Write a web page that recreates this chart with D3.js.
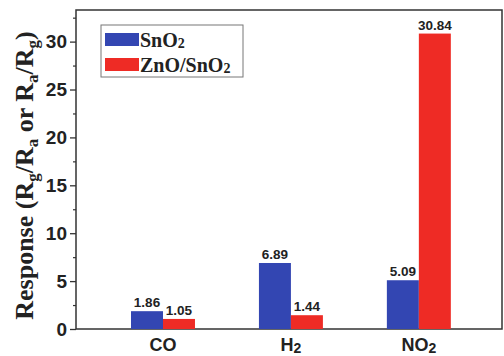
<!DOCTYPE html>
<meta charset="utf-8">
<head>
<style>
  body { margin: 0; background: #fff; }
  .tick text { font-family: Arial, "Liberation Sans", sans-serif; font-weight: bold; }
</style>
</head>
<body>
<script src="https://d3js.org/d3.v7.min.js"></script>
<script>
  // gases and responses
  var gases = ["CO", "H2", "NO2"];
  var sno2 = [1.86, 6.89, 5.09];
  var znoSno2 = [1.05, 1.44, 30.84];
  var seriesNames = ["SnO2", "ZnO/SnO2"];
  var colors = ["#3346b2", "#ee2b25"];
  var yTicks = [0, 5, 10, 15, 20, 25, 30];

  var W = 504, H = 356;
  var plotL = 76, plotR = 502, plotT = 10, plotB = 329;

  var svg = d3.select("body").append("svg")
    .attr("width", W)
    .attr("height", H);

  var x = d3.scaleLinear().domain([-0.68, 2.65]).range([plotL, plotR]);
  var y = d3.scaleLinear().domain([0, 33.3]).range([plotB, plotT]);
  var bw = x(0.25) - x(0);

  // frame
  svg.append("rect")
    .attr("x", plotL).attr("y", plotT)
    .attr("width", plotR - plotL).attr("height", plotB - plotT)
    .attr("fill", "none").attr("stroke", "#333").attr("stroke-width", 1.5);

  // bars
  var series = [sno2, znoSno2];
  series.forEach(function(vals, s) {
    svg.selectAll(".bar" + s)
      .data(vals)
      .enter().append("rect")
      .attr("x", function(d, i) { return x(i) - bw + s * bw; })
      .attr("y", function(d) { return y(d); })
      .attr("width", bw)
      .attr("height", function(d) { return y(0) - y(d); })
      .attr("fill", colors[s]);

    svg.selectAll(".lab" + s)
      .data(vals)
      .enter().append("text")
      .attr("x", function(d, i) { return x(i) - bw / 2 + s * bw; })
      .attr("y", function(d) { return y(d) - 4; })
      .attr("text-anchor", "middle")
      .style("font-family", "Arial, 'Liberation Sans', sans-serif")
      .style("font-weight", "bold")
      .style("font-size", "13.5px")
      .attr("fill", "#222")
      .text(function(d) { return d.toFixed(2); });
  });

  // y axis
  var yAxis = svg.append("g")
    .attr("transform", "translate(" + plotL + ",0)")
    .call(d3.axisLeft(y).tickValues(yTicks).tickSize(6).tickPadding(3));
  yAxis.select(".domain").remove();
  yAxis.selectAll("line").attr("stroke", "#333").attr("stroke-width", 1.3);
  yAxis.selectAll("text").style("font-size", "19px").attr("fill", "#222");
  svg.append("g")
    .attr("transform", "translate(" + plotL + ",0)")
    .call(d3.axisLeft(y).tickValues(d3.range(2.5, 33, 5)).tickSize(3).tickFormat(""))
    .call(function(g) { g.select(".domain").remove(); })
    .selectAll("line").attr("stroke", "#333").attr("stroke-width", 1.2);

  // x labels
  var xl = svg.selectAll(".xl")
    .data(gases)
    .enter().append("text")
    .attr("x", function(d, i) { return x(i); })
    .attr("y", 351)
    .attr("text-anchor", "middle")
    .style("font-family", "Arial, 'Liberation Sans', sans-serif")
    .style("font-weight", "bold")
    .style("font-size", "18px")
    .attr("fill", "#222");
  xl.each(function(d) {
    var t = d3.select(this);
    var m = d.match(/^([A-Z]+)(\d*)$/);
    t.append("tspan").text(m[1]);
    if (m[2]) t.append("tspan").attr("dy", 2).style("font-size", "14px").text(m[2]);
  });

  // y title
  var yt = svg.append("text")
    .attr("transform", "translate(33," + ((plotT + plotB) / 2 + 6) + ") rotate(-90)")
    .attr("text-anchor", "middle")
    .style("font-family", "'Liberation Serif', 'DejaVu Serif', serif")
    .style("font-weight", "bold")
    .style("font-size", "26px")
    .attr("fill", "#222");
  var parts = [["Response (R", ""], ["g", "sub"], ["/R", ""], ["a", "sub"], [" or R", ""], ["a", "sub"], ["/R", ""], ["g", "sub"], [")", ""]];
  parts.forEach(function(p, k) {
    var ts = yt.append("tspan").text(p[0]);
    if (p[1] === "sub") ts.attr("dy", 5).style("font-size", "17px");
    else if (k > 0) ts.attr("dy", -5);
  });

  // legend
  var lg = svg.append("g");
  lg.append("rect")
    .attr("x", 101).attr("y", 25).attr("width", 142).attr("height", 52)
    .attr("fill", "#fff").attr("stroke", "#777").attr("stroke-width", 1);
  seriesNames.forEach(function(n, i) {
    var cy = 40 + i * 25;
    lg.append("rect")
      .attr("x", 105).attr("y", cy - 7).attr("width", 34).attr("height", 13)
      .attr("fill", colors[i]);
    var t = lg.append("text")
      .attr("x", 140).attr("y", cy + 7)
      .style("font-family", "'Liberation Serif', 'DejaVu Serif', serif")
      .style("font-weight", "bold")
      .style("font-size", "20px")
      .attr("fill", "#222");
    t.append("tspan").text(n.slice(0, -1));
    t.append("tspan").attr("dy", 1).style("font-size", "14px").text(n.slice(-1));
  });
</script>
</body>
